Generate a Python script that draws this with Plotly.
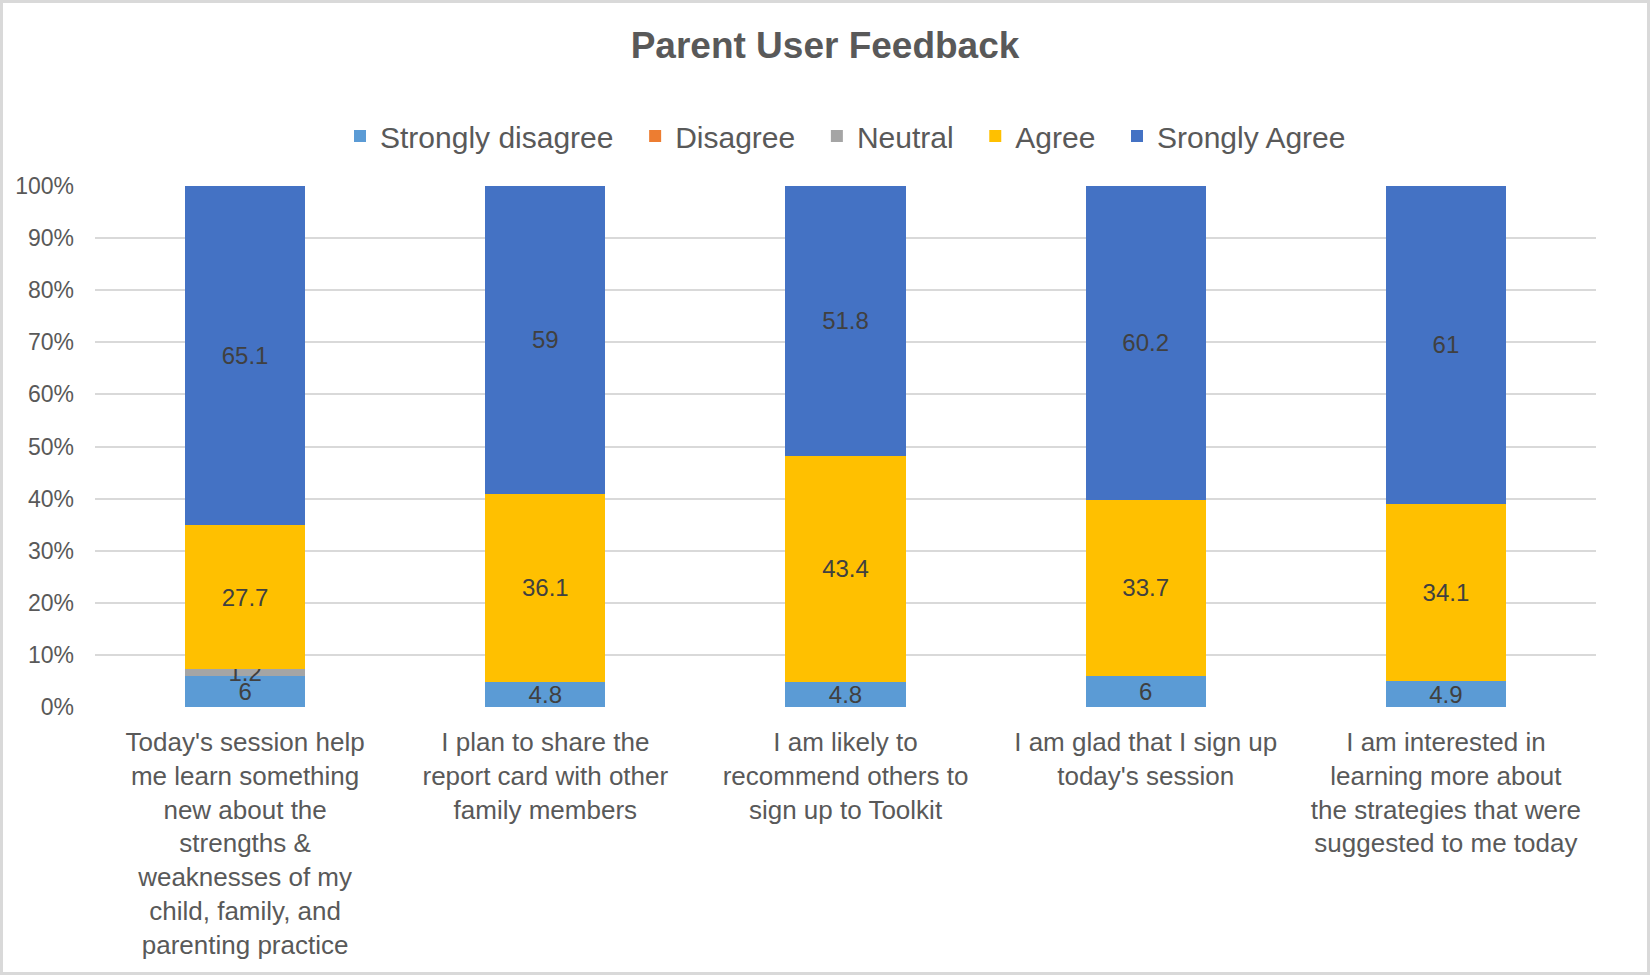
import plotly.graph_objects as go

categories = [
    "Today's session help<br>me learn something<br>new about the<br>strengths &amp;<br>weaknesses of my<br>child, family, and<br>parenting practice",
    "I plan to share the<br>report card with other<br>family members",
    "I am likely to<br>recommend others to<br>sign up to Toolkit",
    "I am glad that I sign up<br>today's session",
    "I am interested in<br>learning more about<br>the strategies that were<br>suggested to me today",
]
series_names = ["Strongly disagree", "Disagree", "Neutral", "Agree", "Srongly Agree"]
strongly_disagree = [6, 4.8, 4.8, 6, 4.9]
disagree = [0, 0, 0, 0, 0]
neutral = [1.2, 0, 0, 0, 0]
agree = [27.7, 36.1, 43.4, 33.7, 34.1]
strongly_agree = [65.1, 59, 51.8, 60.2, 61]
y_ticks = [0, 10, 20, 30, 40, 50, 60, 70, 80, 90, 100]
y_tick_labels = ["0%", "10%", "20%", "30%", "40%", "50%", "60%", "70%", "80%", "90%", "100%"]

colors = ["#5B9BD5", "#ED7D31", "#A5A5A5", "#FFC000", "#4472C4"]
series_values = [strongly_disagree, disagree, neutral, agree, strongly_agree]

W, H = 1650, 975
ML, MR, MT, MB = 95, 54, 186, 268
FONT = "Liberation Sans, Arial, sans-serif"

fig = go.Figure()
xs = list(range(len(categories)))
n = len(series_names)
for i, (name, vals, col) in enumerate(zip(series_names, series_values, colors)):
    txt = [("" if v == 0 else f"{v:g}") for v in vals]
    legend_name = name + ("\u00a0\u00a0" if i < n - 1 else "")
    fig.add_trace(go.Bar(
        name=legend_name, x=xs, y=vals, marker=dict(color=col, line=dict(width=0)),
        text=txt, textposition="inside", insidetextanchor="middle",
        textangle=0, constraintext="none",
        textfont=dict(family=FONT, size=24, color="#404040"),
        hovertemplate=name + ": %{y}<extra></extra>",
    ))

pw = W - ML - MR
ph = H - MT - MB
fig.add_shape(type="rect", xref="paper", yref="paper",
              x0=(-ML + 1.5) / pw, x1=1 + (MR - 1.5) / pw,
              y0=(-MB + 1.5) / ph, y1=1 + (MT - 1.5) / ph,
              line=dict(color="#D9D9D9", width=3), fillcolor="rgba(0,0,0,0)", layer="below")

fig.update_layout(
    width=W, height=H,
    margin=dict(l=ML, r=MR, t=MT, b=MB, pad=0),
    barmode="stack", barnorm="percent", bargap=0.6,
    paper_bgcolor="white", plot_bgcolor="white",
    font=dict(family=FONT, color="#595959"),
    title=dict(text="<b>Parent User Feedback</b>", x=0.5, xanchor="center",
               y=1 - 45 / H, yanchor="middle", yref="container",
               font=dict(family=FONT, size=37, color="#595959")),
    legend=dict(orientation="h", x=0.5, xanchor="center", y=1 + 50 / ph, yanchor="middle",
                font=dict(family=FONT, size=30, color="#595959"),
                itemwidth=30, tracegroupgap=0, traceorder="normal"),
    xaxis=dict(tickmode="array", tickvals=xs, ticktext=categories, range=[-0.5, 4.5],
               showgrid=False, zeroline=False, showline=False, ticks="",
               tickfont=dict(family=FONT, size=26, color="#595959"), ticklabelstandoff=17),
    yaxis=dict(range=[0, 100], tickmode="array", tickvals=y_ticks, ticktext=y_tick_labels,
               showgrid=True, gridcolor="#D9D9D9", gridwidth=2, zeroline=False, showline=False,
               ticks="", tickfont=dict(family=FONT, size=23, color="#595959"),
               ticklabelstandoff=20),
    showlegend=True,
)

fig.write_html("out.html")
